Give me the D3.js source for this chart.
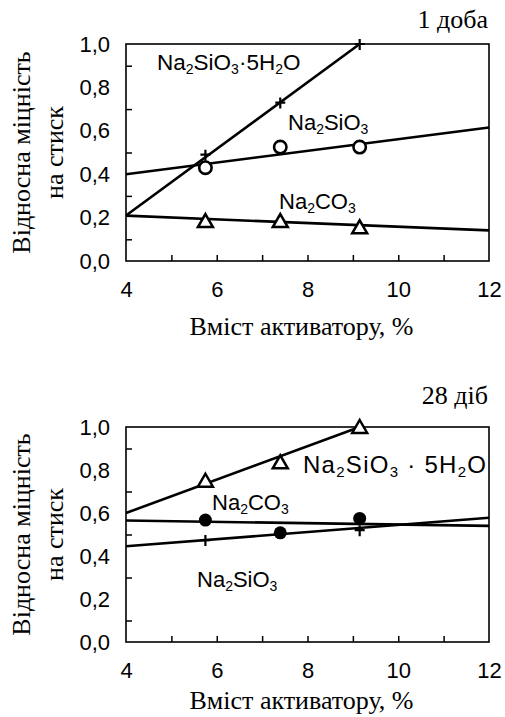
<!DOCTYPE html>
<html>
<head>
<meta charset="utf-8">
<script src="https://cdn.jsdelivr.net/npm/d3@7"></script>
<style>
  html, body { margin: 0; padding: 0; background: #fff; }
  svg { display: block; }
</style>
</head>
<body>
<svg id="chart" width="505" height="717"></svg>
<script>
// Activator content, %
const activatorContent = [5.75, 7.4, 9.15];

// Relative compressive strength after 1 day
const day1Hydrate   = [0.49, 0.73, 1.0];     // Na2SiO3·5H2O, crosses
const day1Silicate  = [0.43, 0.525, 0.525];  // Na2SiO3, open circles
const day1Carbonate = [0.184, 0.184, 0.155]; // Na2CO3, open triangles
const day1HydrateFit   = [[4, 0.21], [9.15, 1.0]];
const day1SilicateFit  = [[4, 0.40], [12, 0.615]];
const day1CarbonateFit = [[4, 0.209], [12, 0.141]];

// Relative compressive strength after 28 days
const day28Hydrate   = [0.75, 0.836, 1.0];   // Na2SiO3·5H2O, open triangles
const day28Carbonate = [0.567, 0.508, 0.575];// Na2CO3, filled circles
const day28SilicateX = [5.75, 9.15];
const day28Silicate  = [0.474, 0.52];        // Na2SiO3, crosses
const day28HydrateFit   = [[4, 0.60], [9.15, 1.0]];
const day28CarbonateFit = [[4, 0.565], [12, 0.54]];
const day28SilicateFit  = [[4, 0.445], [12, 0.578]];

const xTickLabels = [4, 6, 8, 10, 12];
const xMinorTicks = [5, 6, 7, 8, 9, 10, 11];
const yTickLabels = [0, 0.2, 0.4, 0.6, 0.8, 1.0];
const yMinorTicks = [0.1, 0.3, 0.5, 0.7, 0.9];

const xTitle = "Вміст активатору, %";
const yTitle = ["Відносна міцність", "на стиск"];

const svg = d3.select("#chart");
const SANS = "'Liberation Sans', Arial, sans-serif";
const SERIF = "'Liberation Serif', 'Times New Roman', serif";
const fmt = v => d3.format(".1f")(v).replace(".", ",");

// Chemical formula with subscripted digits (digits after "·" stay full size)
function formula(sel, text, size) {
  const parts = text.match(/\d+|[^\d]+/g);
  const sub = Math.round(size * 0.64);
  let prevSub = false;
  parts.forEach((p, i) => {
    const isSub = /^\d+$/.test(p) && i > 0 && !/·\s*$/.test(parts[i - 1]);
    const t = sel.append("tspan").text(p);
    if (isSub) {
      t.attr("font-size", sub).attr("dy", prevSub ? 0 : 4);
      prevSub = true;
    } else {
      if (prevSub) t.attr("dy", -4);
      prevSub = false;
    }
  });
}

function marker(g, type, x, y) {
  if (type === "cross") {
    g.append("path")
      .attr("d", `M${x - 5},${y}H${x + 5}M${x},${y - 5}V${y + 6}`)
      .attr("stroke", "#000").attr("stroke-width", 2.2).attr("fill", "none");
  } else if (type === "circle") {
    g.append("circle").attr("cx", x).attr("cy", y).attr("r", 6.2)
      .attr("fill", "#fff").attr("stroke", "#000").attr("stroke-width", 2.6);
  } else if (type === "dot") {
    g.append("circle").attr("cx", x).attr("cy", y).attr("r", 6.5)
      .attr("fill", "#000");
  } else if (type === "triangle") {
    g.append("path")
      .attr("d", `M${x},${y - 7}L${x + 7.5},${y + 6}L${x - 7.5},${y + 6}Z`)
      .attr("fill", "#fff").attr("stroke", "#000").attr("stroke-width", 2.5)
      .attr("stroke-linejoin", "miter");
  }
}

function panel(cfg) {
  const { top, bottom, title, titleY, xTitleY, series, labels } = cfg;
  const left = 126, right = 489;
  const x = d3.scaleLinear().domain([4, 12]).range([left, right]);
  const y = d3.scaleLinear().domain([0, 1]).range([bottom, top]);
  const g = svg.append("g");

  // inward ticks
  g.append("g").attr("transform", `translate(0,${bottom})`)
    .call(d3.axisTop(x).tickValues(xMinorTicks).tickSize(6).tickFormat(""))
    .call(a => a.select(".domain").remove())
    .selectAll("line").attr("stroke", "#000").attr("stroke-width", 1.5);
  g.append("g").attr("transform", `translate(${left},0)`)
    .call(d3.axisRight(y).tickValues(yMinorTicks).tickSize(6).tickFormat(""))
    .call(a => a.select(".domain").remove())
    .selectAll("line").attr("stroke", "#000").attr("stroke-width", 1.5);

  // tick labels
  g.append("g").attr("transform", `translate(0,${bottom})`)
    .call(d3.axisBottom(x).tickValues(xTickLabels).tickSize(0).tickPadding(20).tickFormat(d3.format("d")))
    .call(a => a.select(".domain").remove())
    .selectAll("text").attr("font-family", SANS).attr("font-size", 22).attr("fill", "#000");
  g.append("g").attr("transform", `translate(${left},0)`)
    .call(d3.axisLeft(y).tickValues(yTickLabels).tickSize(0).tickPadding(16).tickFormat(fmt))
    .call(a => a.select(".domain").remove())
    .selectAll("text").attr("font-family", SANS).attr("font-size", 22).attr("fill", "#000");

  // frame
  g.append("rect").attr("x", left).attr("y", top)
    .attr("width", right - left).attr("height", bottom - top)
    .attr("fill", "none").attr("stroke", "#000").attr("stroke-width", 1.6);

  // fitted lines
  const line = d3.line().x(d => x(d[0])).y(d => y(d[1]));
  series.forEach(s => {
    g.append("path").attr("d", line(s.fit))
      .attr("fill", "none").attr("stroke", "#000").attr("stroke-width", 2.6);
  });
  // measured points
  series.forEach(s => {
    s.values.forEach((v, i) => marker(g, s.marker, x(s.xs[i]), y(v)));
  });

  // series names
  labels.forEach(l => {
    const size = l.size || 22;
    const t = g.append("text").attr("x", l.x).attr("y", l.y)
      .attr("font-family", SANS).attr("font-size", size).attr("fill", "#000");
    if (l.width) t.attr("textLength", l.width).attr("lengthAdjust", "spacing");
    formula(t, l.text, size);
  });

  // period title
  g.append("text").attr("x", 488).attr("y", titleY).attr("text-anchor", "end")
    .attr("font-family", SERIF).attr("font-size", 26).text(title);

  // axis titles
  g.append("text").attr("x", (left + right) / 2 - 6).attr("y", xTitleY)
    .attr("text-anchor", "middle").attr("font-family", SERIF).attr("font-size", 26)
    .text(xTitle);
  const cy = (top + bottom) / 2;
  g.append("text").attr("transform", `translate(30,${cy}) rotate(-90)`)
    .attr("text-anchor", "middle").attr("font-family", SERIF).attr("font-size", 26)
    .text(yTitle[0]);
  g.append("text").attr("transform", `translate(63,${cy}) rotate(-90)`)
    .attr("text-anchor", "middle").attr("font-family", SERIF).attr("font-size", 26)
    .text(yTitle[1]);
}

panel({
  top: 44, bottom: 261, title: "1 доба", titleY: 28, xTitleY: 335,
  series: [
    { xs: activatorContent, values: day1Hydrate, fit: day1HydrateFit, marker: "cross" },
    { xs: activatorContent, values: day1Silicate, fit: day1SilicateFit, marker: "circle" },
    { xs: activatorContent, values: day1Carbonate, fit: day1CarbonateFit, marker: "triangle" }
  ],
  labels: [
    { text: "Na2SiO3·5H2O", x: 157, y: 70, size: 22.5 },
    { text: "Na2SiO3", x: 288, y: 130 },
    { text: "Na2CO3", x: 279, y: 209 }
  ]
});

panel({
  top: 427, bottom: 642, title: "28 діб", titleY: 404, xTitleY: 709,
  series: [
    { xs: activatorContent, values: day28Hydrate, fit: day28HydrateFit, marker: "triangle" },
    { xs: day28SilicateX, values: day28Silicate, fit: day28SilicateFit, marker: "cross" },
    { xs: activatorContent, values: day28Carbonate, fit: day28CarbonateFit, marker: "dot" }
  ],
  labels: [
    { text: "Na2SiO3 · 5H2O", x: 303, y: 473, size: 24, width: 183 },
    { text: "Na2CO3", x: 212, y: 510 },
    { text: "Na2SiO3", x: 197, y: 587 }
  ]
});
</script>
</body>
</html>
